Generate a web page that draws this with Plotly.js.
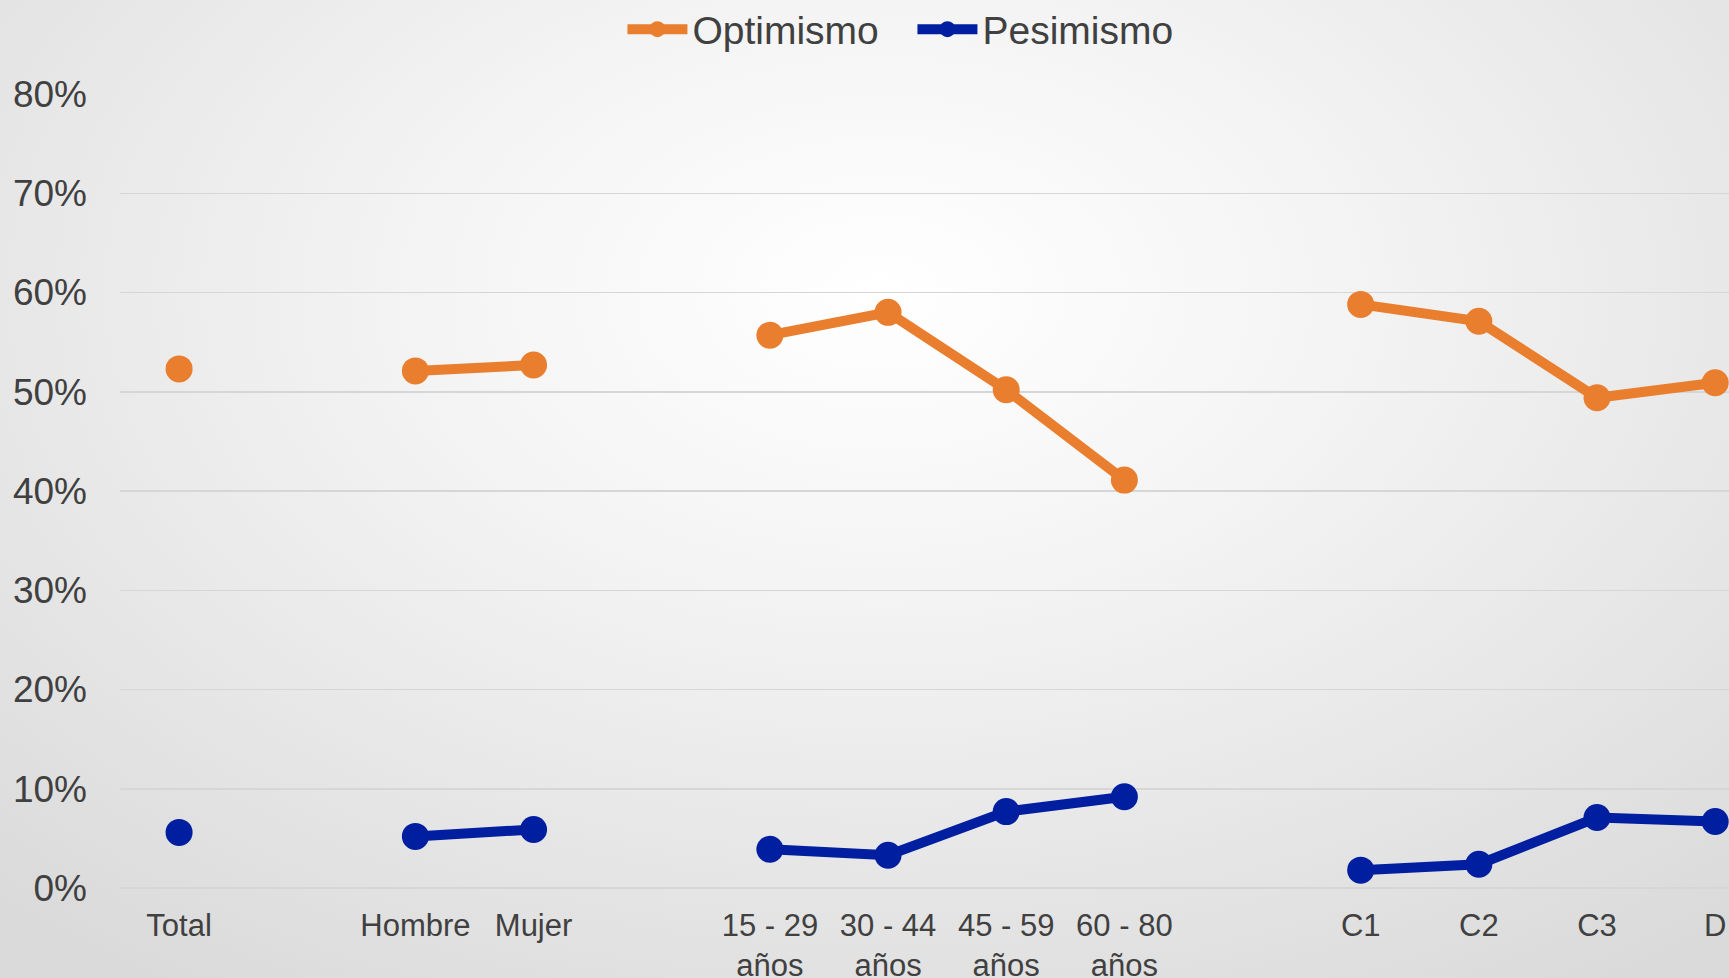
<!DOCTYPE html>
<html>
<head>
<meta charset="utf-8">
<script src="https://cdn.plot.ly/plotly-3.0.1.min.js"></script>
<style>
  html, body { margin: 0; padding: 0; width: 1729px; height: 978px; overflow: hidden; }
  body { background: radial-gradient(ellipse 75% 85% at 51% 30%, #ffffff 0%, #f4f4f4 35%, #e4e4e4 75%, #dadada 100%); }
  #chart { width: 1729px; height: 978px; }
</style>
</head>
<body>
<div id="chart"></div>
<script>
// Categories (blank entries are the gaps between groups)
const categories = ["Total", " ", "Hombre", "Mujer", "  ",
  "15 - 29<br>años", "30 - 44<br>años", "45 - 59<br>años", "60 - 80<br>años", "   ",
  "C1", "C2", "C3", "D"];
const optimismo = [0.523, null, 0.521, 0.527, null, 0.557, 0.580, 0.502, 0.411, null, 0.588, 0.571, 0.494, 0.509];
const pesimismo = [0.056, null, 0.052, 0.059, null, 0.039, 0.033, 0.077, 0.092, null, 0.018, 0.024, 0.071, 0.067];
const seriesNames = ["Optimismo", "Pesimismo"];
const seriesColors = ["#E97E2E", "#001EA0"];
const yTickVals = [0, 0.1, 0.2, 0.3, 0.4, 0.5, 0.6, 0.7, 0.8];

const font = "Liberation Sans, Arial, sans-serif";
const traces = [optimismo, pesimismo].map((vals, i) => ({
  type: "scatter",
  mode: "lines+markers",
  name: seriesNames[i],
  x: categories,
  y: vals,
  connectgaps: false,
  line: { color: seriesColors[i], width: 10 },
  marker: { color: seriesColors[i], size: 27 },
  cliponaxis: false
}));

const layout = {
  width: 1729,
  height: 978,
  paper_bgcolor: "rgba(0,0,0,0)",
  plot_bgcolor: "rgba(0,0,0,0)",
  margin: { l: 120, r: 0, t: 94, b: 90, autoexpand: false },
  font: { family: font, color: "#404040" },
  showlegend: true,
  legend: {
    orientation: "h",
    xref: "container", yref: "container",
    x: 0.360, xanchor: "left",
    y: 0.970, yanchor: "middle",
    font: { size: 39, color: "#404040", family: font },
    itemwidth: 60,
    entrywidth: 215,
    bgcolor: "rgba(0,0,0,0)"
  },
  xaxis: {
    type: "category",
    categoryorder: "array",
    categoryarray: categories,
    range: [-0.5, 13.117],
    showgrid: false,
    showline: false,
    zeroline: false,
    tickfont: { size: 31, color: "#404040", family: font },
    ticklabelstandoff: 16,
    fixedrange: true
  },
  yaxis: {
    range: [0, 0.8],
    tickvals: yTickVals,
    tickformat: ".0%",
    showgrid: true,
    gridcolor: "#d6d6d6",
    gridwidth: 1.5,
    zeroline: true,
    zerolinecolor: "#d6d6d6",
    zerolinewidth: 1.5,
    showline: false,
    tickfont: { size: 37, color: "#404040", family: font },
    ticklabelstandoff: 32,
    fixedrange: true
  }
};

Plotly.newPlot("chart", traces, layout, { displayModeBar: false, staticPlot: true });
</script>
</body>
</html>
